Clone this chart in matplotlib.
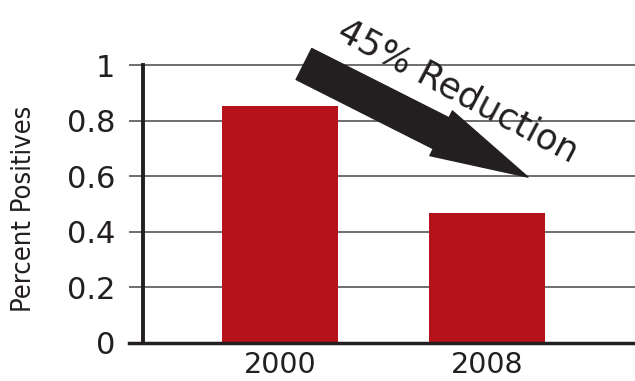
import matplotlib.pyplot as plt

years = ['2000', '2008']
percent_pos = [0.853, 0.468]
y_ticks = [0, 0.2, 0.4, 0.6, 0.8, 1.0]
y_ticklabels = ['0', '0.2', '0.4', '0.6', '0.8', '1']

bar_color = '#b5121b'
ink = '#231f20'

fig = plt.figure(figsize=(6.35, 3.81), dpi=100)
ax = fig.add_axes([129 / 635, 38 / 381, 506 / 635, 279 / 381])

x = range(len(years))
ax.bar(x, percent_pos, width=0.56, color=bar_color, zorder=3)

ax.set_xlim(-0.729, 1.715)
ax.set_ylim(0, 1.004)
ax.set_xticks(list(x))
ax.set_xticklabels(years)
ax.set_yticks(y_ticks)
ax.set_yticklabels(y_ticklabels)
ax.tick_params(axis='both', length=0, labelcolor=ink)
ax.tick_params(axis='x', pad=6, labelsize=20.5)
ax.tick_params(axis='y', pad=20, labelsize=22)

ax.yaxis.grid(True, color='#555555', linewidth=1.2, zorder=1)
ax.set_axisbelow(True)

for s in ['top', 'right']:
    ax.spines[s].set_visible(False)
ax.spines['bottom'].set_linewidth(2.5)
ax.spines['bottom'].set_color(ink)
ax.spines['bottom'].set_zorder(4)
ax.spines['left'].set_position(('axes', 14 / 506))
ax.spines['left'].set_bounds(0, 1)
ax.spines['left'].set_linewidth(2.8)
ax.spines['left'].set_color(ink)
ax.spines['left'].set_zorder(4)

ax.set_ylabel('Percent Positives', fontsize=19.5, family='DejaVu Sans',
              fontstretch='condensed', color=ink)
ax.yaxis.set_label_coords(-0.182, 0.482)

# arrow + label
ax.annotate('', xy=(1.198, 0.597), xytext=(0.116, 1.004),
            arrowprops=dict(arrowstyle='simple,head_length=7.0,head_width=3.6,tail_width=2.5',
                            color=ink, shrinkA=0, shrinkB=0, mutation_scale=10),
            annotation_clip=False, zorder=5)
ax.text(0.86, 0.905, '45% Reduction', fontsize=25.5, rotation=-28, rotation_mode='anchor',
        ha='center', va='center', color=ink, clip_on=False, zorder=6)

fig.savefig('out.png', dpi=100)
